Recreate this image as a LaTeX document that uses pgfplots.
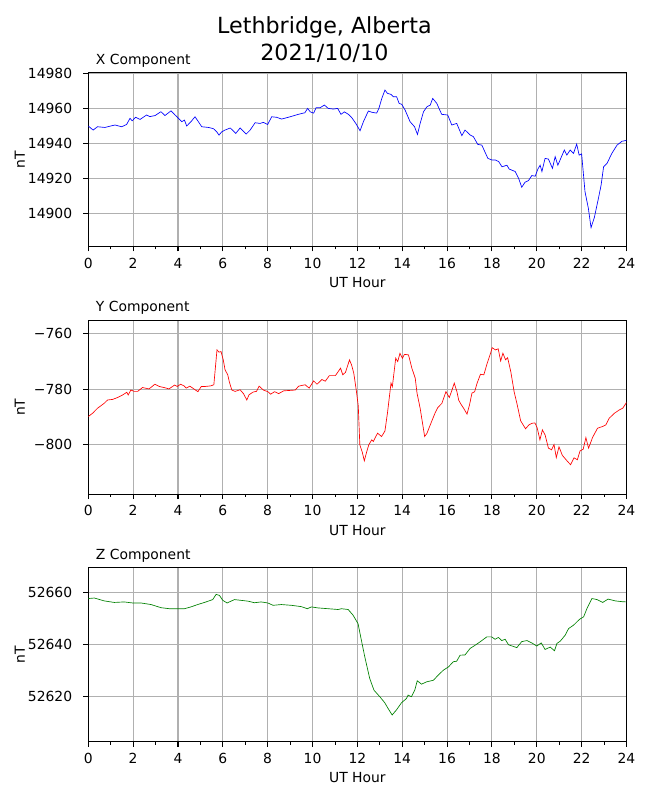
\documentclass[border=0pt]{standalone}
\usepackage{fontspec}
\setmainfont{DejaVu Sans}
\usepackage{pgfplots}
\pgfplotsset{compat=1.18}
\definecolor{mplgrid}{RGB}{176,176,176}
\definecolor{mplgreen}{RGB}{0,128,0}
\newcommand{\mplfont}{\fontsize{10.42pt}{12.5pt}\selectfont}
\pgfplotsset{
  mpl/.style={
    scale only axis, width=403.65pt, height=130.5pt,
    xmin=0, xmax=24, xtick={0,2,...,24}, minor x tick num=1,
    tick pos=left, tick align=outside,
    major tick length=3.65pt, minor tick length=2.08pt,
    every major tick/.append style={line width=0.83pt, black},
    every minor tick/.append style={line width=0.625pt, black},
    axis line style={line width=0.83pt, black},
    xmajorgrids, ymajorgrids,
    major grid style={mplgrid, line width=0.83pt},
    scaled ticks=false,
    /pgf/number format/assume math mode=true,
    /pgf/number format/set thousands separator={},
    tick label style={font=\mplfont, inner sep=0pt},
    xticklabel style={anchor=base, yshift=-12.6pt},
    yticklabel style={anchor=east, xshift=-8.25pt},
    xlabel={UT Hour}, ylabel={nT},
    label style={font=\mplfont, inner sep=0pt},
    xlabel style={at={(axis description cs:0.5,-0.2345)}, anchor=base},
    ylabel style={at={(axis description cs:-0.1176,0.5)}, anchor=base, rotate=0},
    every axis title shift=0pt,
    title style={font=\mplfont, inner sep=0pt, at={(axis description cs:0.01375,1.0489)}, anchor=base west},
  }
}
\begin{document}
\begin{tikzpicture}
\path[use as bounding box] (0,0) rectangle (487.5pt,600pt);
\node[anchor=base, inner sep=0pt, font=\fontsize{16.67pt}{20pt}\selectfont] at (243.3pt,575.0pt) {Lethbridge, Alberta};
\node[anchor=base, inner sep=0pt, font=\fontsize{16.67pt}{20pt}\selectfont] at (243.3pt,554.6pt) {2021/10/10};

\begin{axis}[mpl, at={(66.2pt,415.1pt)}, anchor=south west,
  ymin=14881, ymax=14980.5, ytick={14900,14920,14940,14960,14980},
  yticklabels={14900,14920,14940,14960,14980},
  title={X Component}]
\addplot[blue, line width=0.5pt] coordinates {
(0,14949.9) (0.22,14947.6) (0.41,14949.5) (0.74,14949.1) (1.19,14950.5) (1.49,14949.5) (1.71,14950.8) (1.86,14954.3) (1.96,14952.9) (2.11,14954.9) (2.31,14953.7) (2.60,14956.2) (2.75,14955.3) (2.98,14955.9) (3.24,14958.1) (3.42,14955.9) (3.69,14958.6) (3.87,14956.2) (4.02,14954.3) (4.17,14952.4) (4.29,14953.3) (4.39,14949.9) (4.58,14952.4) (4.76,14955.2) (4.91,14952.4) (5.06,14949.5) (5.36,14949.1) (5.58,14948.4) (5.73,14946.6) (5.83,14944.7) (5.95,14946.6) (6.10,14947.6) (6.33,14948.8) (6.58,14945.7) (6.77,14948.8) (7.04,14945.3) (7.22,14947.6) (7.44,14951.8) (7.66,14951.4) (7.81,14952.0) (8.00,14950.8) (8.18,14955.2) (8.40,14954.9) (8.62,14953.9) (8.92,14954.9) (9.37,14956.6) (9.66,14957.5) (9.78,14960.0) (9.90,14958.0) (10.05,14957.3) (10.16,14960.4) (10.34,14960.4) (10.53,14961.9) (10.70,14960.0) (10.93,14959.6) (11.12,14960.0) (11.27,14956.6) (11.42,14958.0) (11.60,14956.6) (11.75,14954.7) (11.93,14951.4) (12.12,14947.2) (12.27,14952.4) (12.49,14958.5) (12.64,14957.8) (12.86,14957.3) (12.96,14960.0) (13.09,14965.7) (13.23,14970.5) (13.34,14968.6) (13.50,14968.0) (13.60,14966.7) (13.75,14966.7) (13.86,14962.9) (13.98,14962.3) (14.13,14959.0) (14.35,14952.4) (14.55,14949.5) (14.68,14945.1) (14.80,14951.4) (14.95,14958.1) (15.10,14960.9) (15.25,14961.9) (15.36,14965.7) (15.54,14962.9) (15.76,14956.6) (16.03,14956.2) (16.21,14950.5) (16.43,14951.4) (16.66,14944.4) (16.80,14947.6) (17.03,14944.8) (17.17,14943.9) (17.37,14939.4) (17.55,14939.0) (17.82,14931.4) (18.00,14930.5) (18.15,14930.5) (18.30,14929.6) (18.45,14926.6) (18.67,14927.5) (18.77,14925.3) (19.04,14923.9) (19.19,14920.0) (19.33,14914.9) (19.48,14917.8) (19.63,14918.7) (19.78,14921.6) (19.93,14921.2) (20.05,14925.3) (20.15,14927.5) (20.23,14923.9) (20.37,14931.4) (20.52,14931.0) (20.70,14925.7) (20.82,14932.4) (20.94,14927.5) (21.04,14930.5) (21.23,14936.2) (21.34,14933.3) (21.49,14936.2) (21.64,14934.3) (21.78,14939.6) (21.89,14933.3) (22.00,14934.0) (22.15,14912.4) (22.30,14902.9) (22.42,14891.8) (22.57,14897.7) (22.75,14908.6) (22.87,14916.2) (22.98,14926.6) (23.13,14928.5) (23.35,14934.3) (23.58,14939.0) (23.80,14941.2) (24.00,14941.7)
};
\end{axis}

\begin{axis}[mpl, at={(66.2pt,229.35pt)}, anchor=south west,
  ymin=-817.95, ymax=-755.06, ytick={-800,-780,-760}, yticklabels={−800,−780,−760},
  title={Y Component}]
\addplot[red, line width=0.5pt] coordinates {
(0,-789.9) (0.19,-788.7) (0.41,-786.9) (0.71,-785.1) (0.86,-783.9) (1.08,-783.7) (1.31,-783.0) (1.53,-782.1) (1.72,-781.1) (1.78,-782.1) (1.90,-780.3) (2.05,-780.8) (2.20,-780.8) (2.42,-779.4) (2.71,-779.9) (2.97,-778.2) (3.16,-779.0) (3.38,-779.4) (3.60,-779.9) (3.85,-778.5) (3.97,-779.0) (4.12,-778.2) (4.27,-778.8) (4.37,-779.6) (4.53,-778.9) (4.71,-779.9) (4.89,-780.9) (5.04,-779.0) (5.23,-779.0) (5.46,-778.8) (5.60,-778.4) (5.74,-765.8) (5.83,-766.6) (5.92,-766.4) (6.02,-769.4) (6.10,-773.0) (6.22,-774.8) (6.29,-777.3) (6.40,-780.3) (6.55,-780.8) (6.77,-780.2) (6.92,-781.6) (7.07,-783.9) (7.17,-782.0) (7.36,-781.0) (7.50,-780.8) (7.62,-778.9) (7.81,-780.3) (8.01,-780.9) (8.13,-781.8) (8.31,-780.9) (8.49,-781.6) (8.71,-780.6) (9.23,-780.3) (9.38,-778.9) (9.67,-778.4) (9.85,-779.6) (10.05,-777.0) (10.20,-778.2) (10.42,-776.5) (10.57,-777.1) (10.75,-775.1) (11.02,-775.1) (11.25,-772.4) (11.35,-774.8) (11.47,-773.9) (11.65,-769.4) (11.74,-771.2) (11.84,-774.2) (11.95,-780.3) (12.04,-786.0) (12.11,-800.1) (12.22,-802.8) (12.31,-805.9) (12.41,-802.8) (12.51,-800.1) (12.64,-798.3) (12.71,-798.9) (12.90,-795.9) (13.08,-797.1) (13.23,-795.1) (13.35,-788.1) (13.50,-777.8) (13.56,-779.1) (13.71,-768.8) (13.80,-770.0) (13.90,-767.0) (14.01,-768.8) (14.10,-767.4) (14.28,-767.6) (14.43,-772.4) (14.58,-776.0) (14.66,-781.4) (14.80,-786.9) (15.00,-797.1) (15.10,-796.0) (15.25,-792.9) (15.40,-789.9) (15.47,-788.5) (15.59,-786.6) (15.77,-785.1) (15.95,-780.9) (16.10,-783.0) (16.22,-780.3) (16.32,-777.8) (16.44,-780.9) (16.52,-784.0) (16.64,-785.7) (16.74,-786.9) (16.89,-789.0) (17.00,-785.7) (17.11,-781.4) (17.23,-780.9) (17.34,-777.8) (17.49,-774.6) (17.64,-774.8) (17.79,-770.6) (17.94,-767.0) (18.01,-765.0) (18.16,-765.8) (18.28,-765.4) (18.39,-769.8) (18.49,-767.0) (18.61,-769.4) (18.70,-768.6) (18.84,-773.6) (18.99,-780.9) (19.13,-785.7) (19.28,-791.4) (19.50,-794.3) (19.65,-792.9) (19.80,-792.3) (19.92,-792.2) (20.02,-794.0) (20.14,-798.3) (20.25,-794.7) (20.37,-796.5) (20.52,-801.3) (20.66,-801.9) (20.77,-800.0) (20.87,-804.7) (20.99,-800.8) (21.14,-803.9) (21.36,-806.0) (21.51,-807.3) (21.66,-804.8) (21.81,-805.5) (21.93,-802.3) (22.07,-801.7) (22.19,-797.5) (22.31,-801.3) (22.49,-797.4) (22.71,-794.1) (22.93,-793.5) (23.08,-792.9) (23.23,-790.5) (23.46,-788.7) (23.68,-787.5) (23.83,-786.9) (23.98,-785.1) (24.0,-784.6)
};
\end{axis}

\begin{axis}[mpl, at={(66.2pt,43.7pt)}, anchor=south west,
  ymin=52602.75, ymax=52669.4, ytick={52620,52640,52660},
  yticklabels={52620,52640,52660},
  title={Z Component}]
\addplot[mplgreen, line width=0.5pt] coordinates {
(0,52657.6) (0.27,52657.8) (0.71,52656.7) (1.16,52656.1) (1.60,52656.3) (1.98,52655.9) (2.35,52655.9) (2.80,52655.3) (3.24,52654.1) (3.62,52653.7) (3.99,52653.7) (4.29,52653.7) (4.58,52654.4) (4.88,52655.3) (5.18,52656.1) (5.55,52657.2) (5.70,52659.2) (5.85,52658.8) (6.00,52656.9) (6.19,52655.9) (6.52,52657.2) (6.82,52656.9) (7.12,52656.6) (7.41,52656.0) (7.71,52656.3) (8.01,52655.9) (8.24,52655.0) (8.61,52655.3) (9.06,52655.0) (9.50,52654.5) (9.77,52653.7) (9.95,52654.4) (10.25,52654.0) (10.70,52653.7) (11.14,52653.4) (11.29,52653.7) (11.59,52653.4) (11.81,52651.2) (11.96,52649.0) (12.03,52648.0) (12.18,52641.6) (12.33,52635.3) (12.55,52627.0) (12.74,52622.5) (13.00,52620.0) (13.22,52617.7) (13.37,52615.5) (13.55,52613.0) (13.74,52614.9) (13.97,52617.7) (14.19,52619.3) (14.26,52620.6) (14.41,52620.0) (14.56,52622.5) (14.67,52626.1) (14.86,52624.8) (15.09,52625.7) (15.39,52626.3) (15.61,52628.3) (15.84,52630.2) (16.06,52631.4) (16.28,52633.4) (16.43,52633.6) (16.58,52635.9) (16.80,52636.0) (17.03,52638.5) (17.25,52639.7) (17.47,52641.0) (17.77,52642.9) (17.99,52642.9) (18.14,52642.0) (18.29,52642.7) (18.44,52641.5) (18.59,52642.0) (18.74,52639.9) (19.11,52638.8) (19.33,52641.1) (19.56,52641.5) (19.78,52640.6) (20.00,52639.4) (20.20,52640.6) (20.37,52638.1) (20.60,52639.0) (20.79,52637.6) (20.90,52640.4) (21.05,52641.3) (21.27,52643.6) (21.42,52646.1) (21.64,52647.4) (21.90,52649.6) (22.09,52650.6) (22.24,52653.8) (22.46,52657.6) (22.69,52657.2) (22.94,52656.1) (23.18,52657.4) (23.50,52656.7) (23.80,52656.4) (24.00,52656.3)
};
\end{axis}
\end{tikzpicture}
\end{document}
